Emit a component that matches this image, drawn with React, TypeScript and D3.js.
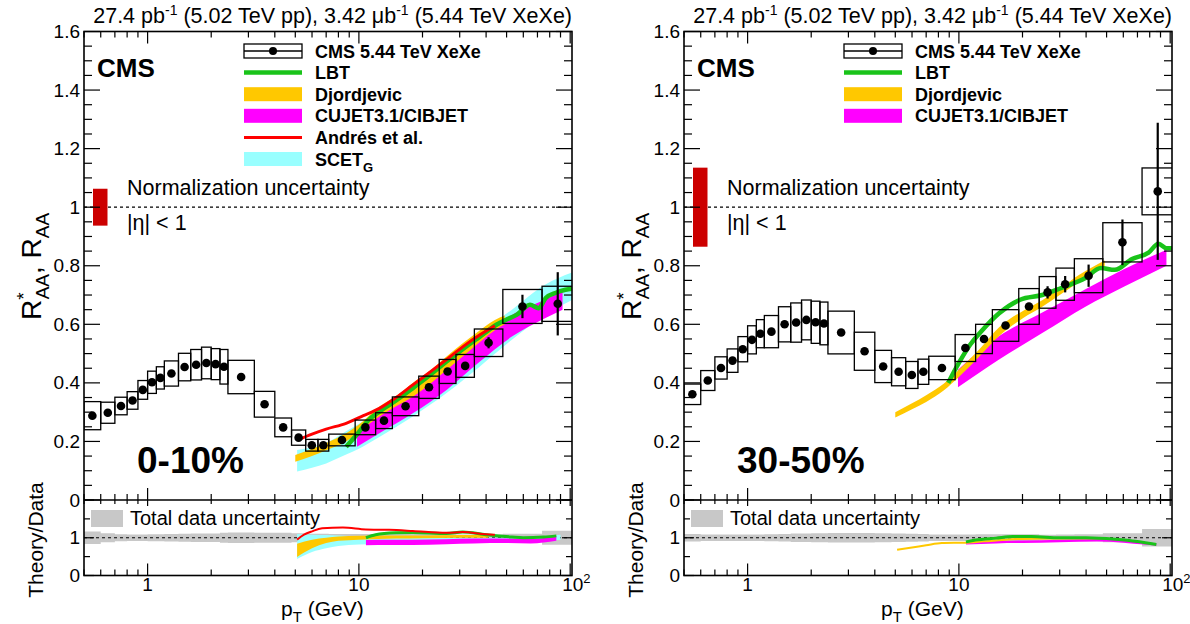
import React from "react";
import * as d3 from "d3";

const FONT = "'Liberation Sans', Arial, Helvetica, sans-serif";

// pT bin edges (GeV)
const binEdges = [0.5, 0.6, 0.7, 0.8, 0.9, 1.0, 1.1, 1.2, 1.4, 1.6, 1.8, 2.0, 2.2, 2.4, 3.2, 4.0, 4.8, 5.6, 6.4, 7.2, 9.6, 12.0, 14.4, 19.2, 24.0, 28.8, 35.2, 48.0, 73.6, 103.6];

// 0-10%
const raa010 = [0.288, 0.298, 0.321, 0.340, 0.376, 0.402, 0.417, 0.432, 0.454, 0.462, 0.468, 0.464, 0.455, 0.420, 0.327, 0.248, 0.213, 0.187, 0.187, 0.205, 0.248, 0.271, 0.320, 0.385, 0.439, 0.458, 0.537, 0.661, 0.670];
const sys010 = [0.048, 0.036, 0.030, 0.030, 0.032, 0.038, 0.038, 0.043, 0.047, 0.052, 0.054, 0.053, 0.059, 0.057, 0.044, 0.032, 0.026, 0.020, 0.020, 0.020, 0.025, 0.027, 0.032, 0.038, 0.041, 0.039, 0.047, 0.058, 0.060];
const stat010 = [0.002, 0.002, 0.002, 0.002, 0.002, 0.002, 0.002, 0.002, 0.002, 0.002, 0.002, 0.002, 0.002, 0.002, 0.002, 0.002, 0.002, 0.002, 0.002, 0.003, 0.004, 0.005, 0.005, 0.006, 0.008, 0.010, 0.019, 0.040, 0.108];
const norm010 = 0.063;

// 30-50%
const raa3050 = [0.361, 0.408, 0.451, 0.476, 0.515, 0.547, 0.568, 0.575, 0.600, 0.606, 0.615, 0.607, 0.603, 0.572, 0.508, 0.456, 0.438, 0.427, 0.438, 0.451, 0.519, 0.550, 0.596, 0.661, 0.709, 0.737, 0.766, 0.880, 1.054];
const sys3050 = [0.035, 0.034, 0.038, 0.040, 0.043, 0.048, 0.048, 0.055, 0.060, 0.067, 0.068, 0.072, 0.073, 0.073, 0.065, 0.055, 0.048, 0.046, 0.043, 0.040, 0.046, 0.050, 0.054, 0.061, 0.054, 0.055, 0.058, 0.067, 0.080];
const stat3050 = [0.002, 0.002, 0.002, 0.002, 0.002, 0.002, 0.002, 0.002, 0.002, 0.002, 0.002, 0.002, 0.002, 0.002, 0.002, 0.003, 0.003, 0.003, 0.004, 0.005, 0.006, 0.008, 0.009, 0.012, 0.021, 0.028, 0.038, 0.078, 0.234];
const norm3050 = 0.135;

// ---- Theory, 0-10% ----
const scet010Pt = [5.1, 6, 7, 8.7, 10, 12.5, 18, 26, 37.4, 53, 76, 103];
const scet010Lo = [0.097, 0.110, 0.125, 0.155, 0.175, 0.215, 0.285, 0.365, 0.456, 0.547, 0.632, 0.685];
const scet010Hi = [0.171, 0.180, 0.195, 0.235, 0.260, 0.300, 0.390, 0.480, 0.570, 0.650, 0.735, 0.778];
const djo010Pt = [5.0, 6, 7, 8.7, 10.5, 12.5, 15, 18, 22, 26, 31, 37.4, 44, 49];
const djo010Lo = [0.131, 0.150, 0.170, 0.200, 0.245, 0.285, 0.320, 0.353, 0.400, 0.444, 0.490, 0.540, 0.580, 0.600];
const djo010Hi = [0.154, 0.175, 0.195, 0.228, 0.270, 0.319, 0.355, 0.400, 0.445, 0.490, 0.535, 0.580, 0.615, 0.630];
const cujet010Pt = [9.8, 12.5, 18, 26, 37.4, 53, 76, 92];
const cujet010Lo = [0.182, 0.228, 0.296, 0.376, 0.473, 0.558, 0.621, 0.650];
const cujet010Hi = [0.250, 0.296, 0.370, 0.456, 0.547, 0.632, 0.684, 0.712];
const lbt010Pt = [8.7, 9.9, 11, 12.5, 15, 18, 22, 26, 31, 37.4, 44, 49.5, 56, 64.5, 71, 76.6, 85, 95, 103];
const lbt010R = [0.182, 0.228, 0.270, 0.302, 0.340, 0.382, 0.430, 0.473, 0.515, 0.558, 0.595, 0.615, 0.633, 0.667, 0.655, 0.690, 0.707, 0.718, 0.722];
const andres010Pt = [5.13, 6, 7, 8.7, 10.5, 12.5, 15, 18, 22, 25.9, 31, 37.4, 44];
const andres010R = [0.205, 0.225, 0.242, 0.262, 0.288, 0.313, 0.350, 0.393, 0.440, 0.479, 0.523, 0.564, 0.595];

// ratios 0-10%
const rScet010Pt = [5.1, 6, 7, 8, 10, 15, 20, 30, 50, 70, 90];
const rScet010Lo = [0.44, 0.62, 0.72, 0.78, 0.82, 0.84, 0.85, 0.86, 0.88, 0.90, 0.95];
const rScet010Hi = [1.10, 1.08, 1.07, 1.06, 1.04, 1.02, 1.00, 1.00, 1.00, 1.02, 1.08];
const rDjo010Pt = [5.1, 6, 7, 8, 10, 15, 20, 30, 41];
const rDjo010Lo = [0.49, 0.72, 0.86, 0.92, 0.95, 0.98, 0.99, 1.00, 1.00];
const rDjo010Hi = [0.84, 0.95, 1.00, 1.03, 1.05, 1.06, 1.06, 1.07, 1.07];
const rCujet010Pt = [10.8, 14, 18, 26, 35, 50, 65, 86];
const rCujet010Lo = [0.80, 0.81, 0.81, 0.83, 0.85, 0.86, 0.85, 0.92];
const rCujet010Hi = [0.94, 0.95, 0.95, 0.96, 0.98, 0.98, 0.97, 1.04];
const rLbt010Pt = [10.8, 12, 15, 18, 26, 31, 40, 53, 60, 75, 86];
const rLbt010R = [1.00, 1.08, 1.13, 1.14, 1.11, 1.15, 1.08, 1.02, 1.00, 1.02, 1.05];
const rAndres010Pt = [5.1, 5.5, 6.0, 6.7, 8.4, 10.8, 13.9, 18, 26, 31, 40, 44];
const rAndres010R = [0.95, 1.08, 1.17, 1.25, 1.27, 1.22, 1.21, 1.18, 1.13, 1.15, 1.09, 1.08];

// ---- Theory, 30-50% ----
const djo3050Pt = [5.0, 6, 7, 8.5, 10, 12.5, 15.5, 20, 24.8, 30, 37.3, 49];
const djo3050Lo = [0.282, 0.310, 0.335, 0.375, 0.420, 0.490, 0.560, 0.620, 0.660, 0.700, 0.746, 0.800];
const djo3050Hi = [0.300, 0.330, 0.358, 0.398, 0.445, 0.515, 0.590, 0.645, 0.682, 0.722, 0.770, 0.818];
const cujet3050Pt = [9.9, 15.5, 24.8, 39.7, 61, 96];
const cujet3050Lo = [0.385, 0.480, 0.570, 0.660, 0.730, 0.800];
const cujet3050Hi = [0.445, 0.560, 0.640, 0.720, 0.790, 0.855];
const lbt3050Pt = [8.9, 10, 11.3, 12.9, 15.5, 19.5, 24.8, 30.5, 39.7, 47, 54.6, 66, 79, 88, 96, 103];
const lbt3050R = [0.400, 0.468, 0.530, 0.580, 0.638, 0.684, 0.700, 0.724, 0.758, 0.792, 0.786, 0.823, 0.845, 0.875, 0.860, 0.860];

// ratios 30-50%
const rDjo3050Pt = [5.1, 6, 7, 8.3, 10.8, 15, 20, 30, 49];
const rDjo3050R = [0.68, 0.74, 0.80, 0.86, 0.87, 0.93, 0.97, 0.98, 0.99];
const rCujet3050Pt = [10.8, 15, 20, 30, 45, 60, 75, 86];
const rCujet3050Lo = [0.82, 0.85, 0.86, 0.88, 0.90, 0.87, 0.82, 0.79];
const rCujet3050Hi = [0.90, 0.92, 0.93, 0.95, 0.97, 0.94, 0.88, 0.84];
const rLbt3050Pt = [10.8, 12, 15, 18, 22, 30, 40, 55, 70, 86];
const rLbt3050R = [0.89, 0.94, 0.99, 1.03, 1.03, 1.00, 1.00, 0.96, 0.90, 0.82];

const yMainTicks = [0, 0.2, 0.4, 0.6, 0.8, 1.0, 1.2, 1.4, 1.6];
const yMainLabels = ["0", "0.2", "0.4", "0.6", "0.8", "1", "1.2", "1.4", "1.6"];

const C_GREEN = "#19c319";
const C_ORANGE = "#ffc800";
const C_MAGENTA = "#ff00ff";
const C_RED = "#ff0000";
const C_CYAN = "#99ffff";
const C_NORM = "#cc0000";
const C_GRAY = "#c8c8c8";

type Band = { pt: number[]; lo: number[]; hi: number[]; color: string };
type Line = { pt: number[]; v: number[]; color: string; width: number };
type LegendItem = { kind: "data" | "line" | "band"; color: string; label: React.ReactNode };

function band(pt: number[], lo: number[], hi: number[], color: string): Band {
  return { pt, lo, hi, color };
}
function line(pt: number[], v: number[], color: string, width: number): Line {
  return { pt, v, color, width };
}

const X_DOMAIN: [number, number] = [0.5, 102];
const Y_TOP = 31.5;
const Y_MID = 500;
const Y_BOT = 575.5;

type PanelProps = {
  ox: number;
  id: string;
  raa: number[];
  sys: number[];
  stat: number[];
  norm: number;
  bands: Band[];
  lines: Line[];
  rBands: Band[];
  rLines: Line[];
  legend: LegendItem[];
  label: string;
};

function Panel(p: PanelProps) {
  const x0 = p.ox + 84;
  const x1 = p.ox + 572;
  const x = d3.scaleLog().domain(X_DOMAIN).range([x0, x1]);
  const y = d3.scaleLinear().domain([0, 1.6]).range([Y_MID, Y_TOP]);
  const yr = d3.scaleLinear().domain([0, 2]).range([Y_BOT, Y_MID]);

  const bins = p.raa.map((v, i) => ({
    lo: binEdges[i],
    hi: binEdges[i + 1],
    c: Math.sqrt(binEdges[i] * binEdges[i + 1]),
    v,
    sys: p.sys[i],
    stat: p.stat[i],
  }));

  const areaMain = (b: Band) =>
    d3
      .area<number>()
      .x((_, i) => x(b.pt[i]))
      .y0((_, i) => y(b.lo[i]))
      .y1((_, i) => y(b.hi[i]))
      .curve(d3.curveMonotoneX)(b.pt) || "";
  const lineMain = (l: Line) =>
    d3
      .line<number>()
      .x((_, i) => x(l.pt[i]))
      .y((_, i) => y(l.v[i]))
      .curve(d3.curveMonotoneX)(l.pt) || "";
  const areaR = (b: Band) =>
    d3
      .area<number>()
      .x((_, i) => x(b.pt[i]))
      .y0((_, i) => yr(b.lo[i]))
      .y1((_, i) => yr(b.hi[i]))
      .curve(d3.curveMonotoneX)(b.pt) || "";
  const lineR = (l: Line) =>
    d3
      .line<number>()
      .x((_, i) => x(l.pt[i]))
      .y((_, i) => yr(l.v[i]))
      .curve(d3.curveMonotoneX)(l.pt) || "";

  // total data uncertainty band (step)
  const uncPts: { px: number; u: number }[] = [];
  bins.forEach((b) => {
    const u = Math.sqrt(b.sys * b.sys + b.stat * b.stat) / b.v;
    uncPts.push({ px: b.lo, u });
    uncPts.push({ px: b.hi, u });
  });
  const uncPath =
    d3
      .area<{ px: number; u: number }>()
      .x((d) => x(d.px))
      .y0((d) => yr(1 - d.u))
      .y1((d) => yr(1 + d.u))(uncPts) || "";

  // x ticks
  const xTicks: { v: number; major: boolean }[] = [];
  [0.1, 1, 10, 100].forEach((dec) => {
    for (let m = 1; m <= 9; m++) {
      const v = m * dec;
      if (v >= 0.5 - 1e-9 && v <= X_DOMAIN[1]) xTicks.push({ v, major: m === 1 });
    }
  });
  const yMinor = d3.range(0, 1.6001, 0.05);
  const rTicks = [0, 0.5, 1, 1.5, 2];

  const legX = p.ox + 244;
  const legW = 58;
  const legY0 = 51;
  const legDy = 21.6;

  const ax = "#000";
  return (
    <g fontFamily={FONT}>
      <defs>
        <clipPath id={`clipMain${p.id}`}>
          <rect x={x0} y={Y_TOP} width={x1 - x0} height={Y_MID - Y_TOP} />
        </clipPath>
        <clipPath id={`clipRatio${p.id}`}>
          <rect x={x0} y={Y_MID} width={x1 - x0} height={Y_BOT - Y_MID} />
        </clipPath>
      </defs>

      {/* Top luminosity text */}
      <text x={x1} y={23} textAnchor="end" fontSize={21.5}>
        27.4 pb
        <tspan dy={-8} fontSize={14}>-1</tspan>
        <tspan dy={8}> (5.02 TeV pp), 3.42 μb</tspan>
        <tspan dy={-8} fontSize={14}>-1</tspan>
        <tspan dy={8}> (5.44 TeV XeXe)</tspan>
      </text>

      {/* main panel contents */}
      <g clipPath={`url(#clipMain${p.id})`}>
        {p.bands.map((b, i) => (
          <path key={"b" + i} d={areaMain(b)} fill={b.color} stroke="none" />
        ))}
        {p.lines.map((l, i) => (
          <path key={"l" + i} d={lineMain(l)} fill="none" stroke={l.color} strokeWidth={l.width} />
        ))}
        {/* normalization */}
        <line x1={x0} x2={x1} y1={y(1)} y2={y(1)} stroke="#000" strokeWidth={1.2} strokeDasharray="3,3" />
        {bins.map((b, i) => (
          <rect
            key={"sys" + i}
            x={x(b.lo)}
            y={y(b.v + b.sys)}
            width={x(b.hi) - x(b.lo)}
            height={y(b.v - b.sys) - y(b.v + b.sys)}
            fill="none"
            stroke="#000"
            strokeWidth={1.3}
          />
        ))}
        {bins.map((b, i) =>
          b.stat > 0.006 ? (
            <line key={"st" + i} x1={x(b.c)} x2={x(b.c)} y1={y(b.v - b.stat)} y2={y(b.v + b.stat)} stroke="#000" strokeWidth={2.2} />
          ) : null
        )}
        {bins.map((b, i) => (
          <circle key={"pt" + i} cx={x(b.c)} cy={y(b.v)} r={4.3} fill="#000" />
        ))}
      </g>
      <rect x={x0 + 9} y={y(1 + p.norm)} width={14.5} height={y(1 - p.norm) - y(1 + p.norm)} fill={C_NORM} />
      <text x={x0 + 43} y={195} fontSize={21.5}>Normalization uncertainty</text>
      <text x={x0 + 43} y={230} fontSize={21.5}>|η| &lt; 1</text>

      <text x={p.ox + 97} y={77} fontSize={26} fontWeight="bold">CMS</text>
      <text x={p.ox + 137} y={473} fontSize={37} fontWeight="bold">{p.label}</text>

      {/* legend */}
      {p.legend.map((it, i) => {
        const cy = legY0 + i * legDy;
        return (
          <g key={"leg" + i}>
            {it.kind === "data" && (
              <g>
                <rect x={legX} y={cy - 7} width={legW} height={14} fill="none" stroke="#000" strokeWidth={1.3} />
                <line x1={legX} x2={legX + legW} y1={cy} y2={cy} stroke="#000" strokeWidth={1.3} />
                <circle cx={legX + legW / 2} cy={cy} r={4} fill="#000" />
              </g>
            )}
            {it.kind === "line" && (
              <line x1={legX} x2={legX + legW} y1={cy} y2={cy} stroke={it.color} strokeWidth={it.color === C_RED ? 3 : 4.5} />
            )}
            {it.kind === "band" && <rect x={legX} y={cy - 7} width={legW} height={14} fill={it.color} />}
            <text x={legX + 71} y={cy + 6.5} fontSize={18} fontWeight="bold">
              {it.label}
            </text>
          </g>
        );
      })}

      {/* ratio panel */}
      <g clipPath={`url(#clipRatio${p.id})`}>
        <path d={uncPath} fill={C_GRAY} />
        <line x1={x0} x2={x1} y1={yr(1)} y2={yr(1)} stroke="#000" strokeWidth={1.2} strokeDasharray="3,3" />
        {p.rBands.map((b, i) => (
          <path key={"rb" + i} d={areaR(b)} fill={b.color} stroke="none" />
        ))}
        {p.rLines.map((l, i) => (
          <path key={"rl" + i} d={lineR(l)} fill="none" stroke={l.color} strokeWidth={l.width} />
        ))}
      </g>
      <rect x={x0 + 7} y={510} width={32} height={17} fill={C_GRAY} />
      <text x={x0 + 46} y={525} fontSize={20}>Total data uncertainty</text>

      {/* frames */}
      <rect x={x0} y={Y_TOP} width={x1 - x0} height={Y_BOT - Y_TOP} fill="none" stroke={ax} strokeWidth={1.6} />
      <line x1={x0} x2={x1} y1={Y_MID} y2={Y_MID} stroke={ax} strokeWidth={1.6} />

      {/* x ticks */}
      {xTicks.map((t, i) => {
        const px = x(t.v);
        const L = t.major ? 12 : 6;
        return (
          <g key={"xt" + i} stroke={ax} strokeWidth={1.2}>
            <line x1={px} x2={px} y1={Y_MID} y2={Y_MID - L} />
            <line x1={px} x2={px} y1={Y_TOP} y2={Y_TOP + L} />
            <line x1={px} x2={px} y1={Y_BOT} y2={Y_BOT - L} />
            <line x1={px} x2={px} y1={Y_MID} y2={Y_MID + (t.major ? 6 : 4)} />
          </g>
        );
      })}
      {/* y ticks main */}
      {yMinor.map((v, i) => {
        const major = Math.abs(v / 0.2 - Math.round(v / 0.2)) < 1e-6;
        const L = major ? 16 : 8;
        const py = y(v);
        return (
          <g key={"yt" + i} stroke={ax} strokeWidth={1.2}>
            <line x1={x0} x2={x0 + L} y1={py} y2={py} />
            <line x1={x1} x2={x1 - L} y1={py} y2={py} />
          </g>
        );
      })}
      {rTicks.map((v, i) => {
        const major = v % 1 === 0;
        const L = major ? 10 : 6;
        const py = yr(v);
        return (
          <g key={"rt" + i} stroke={ax} strokeWidth={1.2}>
            <line x1={x0} x2={x0 + L} y1={py} y2={py} />
            <line x1={x1} x2={x1 - L} y1={py} y2={py} />
          </g>
        );
      })}

      {/* y labels */}
      {yMainTicks.map((v, i) => (
        <text key={"yl" + i} x={x0 - 4} y={y(v) + 6.5} fontSize={19} textAnchor="end">
          {yMainLabels[i]}
        </text>
      ))}
      <text x={x0 - 4} y={yr(1) + 6.5} fontSize={19} textAnchor="end">1</text>
      <text x={x0 - 4} y={yr(0) + 6.5} fontSize={19} textAnchor="end">0</text>

      {/* x labels */}
      <text x={x(1)} y={591} fontSize={19} textAnchor="middle">1</text>
      <text x={x(10)} y={591} fontSize={19} textAnchor="middle">10</text>
      <text x={x(100) - 8} y={591} fontSize={19}>
        10<tspan dy={-8} fontSize={13}>2</tspan>
      </text>

      {/* axis titles */}
      <text x={x0 + 197} y={616} fontSize={21}>
        p<tspan dy={6} fontSize={15}>T</tspan>
        <tspan dy={-6}> (GeV)</tspan>
      </text>
      <g transform={`translate(${p.ox + 41},${320}) rotate(-90)`}>
        <text x={0} y={0} fontSize={28}>
          R<tspan dy={-11} fontSize={19}>*</tspan>
          <tspan dx={-7} dy={19} fontSize={19}>AA</tspan>
          <tspan dy={-8}>, R</tspan>
          <tspan dy={8} fontSize={19}>AA</tspan>
        </text>
      </g>
      <g transform={`translate(${p.ox + 43},${540}) rotate(-90)`}>
        <text x={0} y={0} fontSize={21} textAnchor="middle">Theory/Data</text>
      </g>
    </g>
  );
}

export default function App() {
  const scetLabel = (
    <tspan>
      SCET<tspan dy={6} fontSize={13}>G</tspan>
    </tspan>
  );
  const leftLegend: LegendItem[] = [
    { kind: "data", color: "#000", label: "CMS 5.44 TeV XeXe" },
    { kind: "line", color: C_GREEN, label: "LBT" },
    { kind: "band", color: C_ORANGE, label: "Djordjevic" },
    { kind: "band", color: C_MAGENTA, label: "CUJET3.1/CIBJET" },
    { kind: "line", color: C_RED, label: "Andrés et al." },
    { kind: "band", color: C_CYAN, label: scetLabel },
  ];
  const rightLegend: LegendItem[] = leftLegend.slice(0, 4);

  return (
    <svg width={1190} height={624} style={{ display: "block", position: "absolute", left: 0, top: 0, background: "#fff" }}>
      <rect x={0} y={0} width={1190} height={624} fill="#fff" />
      <Panel
        ox={0}
        id="L"
        raa={raa010}
        sys={sys010}
        stat={stat010}
        norm={norm010}
        bands={[
          band(scet010Pt, scet010Lo, scet010Hi, C_CYAN),
          band(cujet010Pt, cujet010Lo, cujet010Hi, C_MAGENTA),
          band(djo010Pt, djo010Lo, djo010Hi, C_ORANGE),
        ]}
        lines={[line(lbt010Pt, lbt010R, C_GREEN, 4.5), line(andres010Pt, andres010R, C_RED, 3)]}
        rBands={[
          band(rScet010Pt, rScet010Lo, rScet010Hi, C_CYAN),
          band(rCujet010Pt, rCujet010Lo, rCujet010Hi, C_MAGENTA),
          band(rDjo010Pt, rDjo010Lo, rDjo010Hi, C_ORANGE),
        ]}
        rLines={[line(rLbt010Pt, rLbt010R, C_GREEN, 3), line(rAndres010Pt, rAndres010R, C_RED, 2)]}
        legend={leftLegend}
        label="0-10%"
      />
      <Panel
        ox={600}
        id="R"
        raa={raa3050}
        sys={sys3050}
        stat={stat3050}
        norm={norm3050}
        bands={[band(cujet3050Pt, cujet3050Lo, cujet3050Hi, C_MAGENTA), band(djo3050Pt, djo3050Lo, djo3050Hi, C_ORANGE)]}
        lines={[line(lbt3050Pt, lbt3050R, C_GREEN, 4.5)]}
        rBands={[band(rCujet3050Pt, rCujet3050Lo, rCujet3050Hi, C_MAGENTA)]}
        rLines={[line(rDjo3050Pt, rDjo3050R, C_ORANGE, 2), line(rLbt3050Pt, rLbt3050R, C_GREEN, 3)]}
        legend={rightLegend}
        label="30-50%"
      />
    </svg>
  );
}
